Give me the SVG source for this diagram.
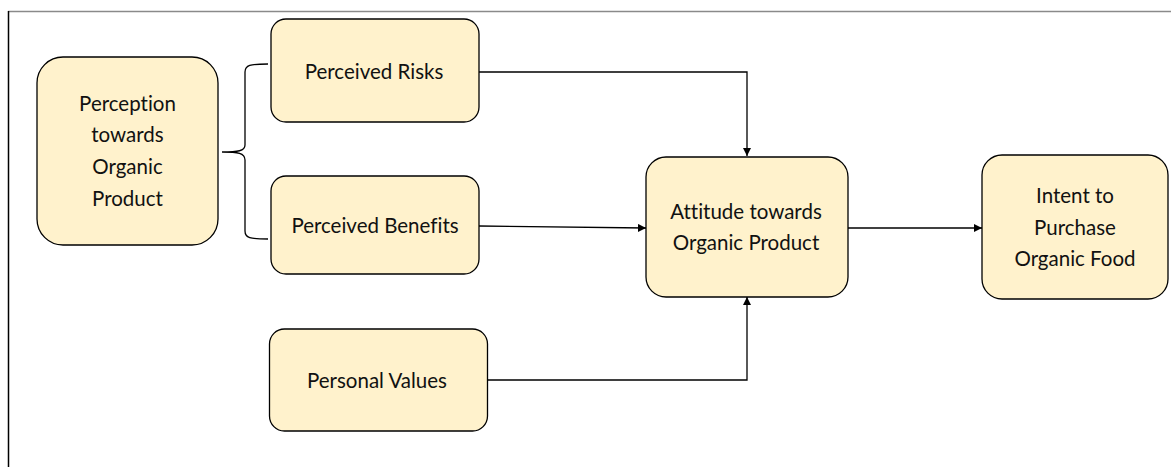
<svg xmlns="http://www.w3.org/2000/svg" width="1171" height="468" viewBox="0 0 1171 468">
  <style>
    .box { fill: #FFF2CC; stroke: #000; stroke-width: 1.3; }
    .lbl { font-family: Lato, "Liberation Sans", sans-serif; font-size: 20.5px; fill: #111; text-anchor: middle; font-variant-ligatures: none; }
    .wire { fill: none; stroke: #000; stroke-width: 1.3; }
  </style>
  <defs>
    <marker id="arrow" viewBox="0 0 10 10" refX="10" refY="5" markerWidth="8" markerHeight="8" markerUnits="userSpaceOnUse" orient="auto">
      <path d="M0,0 L10,5 L0,10 z" fill="#000"/>
    </marker>
  </defs>

  <rect width="1171" height="468" fill="#fff"/>

  <!-- frame -->
  <line x1="8" y1="11.5" x2="1171" y2="11.5" stroke="#8a8a8a" stroke-width="1.5"/>
  <line x1="8.5" y1="11" x2="8.5" y2="467" stroke="#000" stroke-width="1.5"/>

  <g id="connectors">
    <!-- brace grouping the two perceptions -->
    <path class="wire" d="M268,64 C250,64 245,65 245,72 L245,145 C245,151 238,152 222,152 C238,152 245,153 245,160 L245,231 C245,238 250,239 268,239"/>
    <path class="wire" d="M479,72 H747 V156" marker-end="url(#arrow)"/>
    <path class="wire" d="M479,226 L646,228" marker-end="url(#arrow)"/>
    <path class="wire" d="M488,380 H747 V297" marker-end="url(#arrow)"/>
    <path class="wire" d="M848,228 H982" marker-end="url(#arrow)"/>
  </g>

  <g id="perception">
    <rect class="box" x="37" y="57" width="181" height="188" rx="26"/>
    <text class="lbl" x="127.5" y="111">Perception</text>
    <text class="lbl" x="127.5" y="142">towards</text>
    <text class="lbl" x="127.5" y="173.5">Organic</text>
    <text class="lbl" x="127.5" y="205.5">Product</text>
  </g>

  <g id="risks">
    <rect class="box" x="271" y="19" width="208" height="103" rx="15"/>
    <text class="lbl" x="374" y="78.5">Perceived Risks</text>
  </g>

  <g id="benefits">
    <rect class="box" x="271" y="176" width="208" height="98" rx="15"/>
    <text class="lbl" x="375" y="233">Perceived Benefits</text>
  </g>

  <g id="values">
    <rect class="box" x="269.5" y="329" width="218" height="102" rx="15"/>
    <text class="lbl" x="377" y="388">Personal Values</text>
  </g>

  <g id="attitude">
    <rect class="box" x="646" y="157" width="202" height="140" rx="20"/>
    <text class="lbl" x="746" y="218.5">Attitude towards</text>
    <text class="lbl" x="746" y="250">Organic Product</text>
  </g>

  <g id="intent">
    <rect class="box" x="982" y="155" width="186" height="144" rx="20"/>
    <text class="lbl" x="1075" y="203">Intent to</text>
    <text class="lbl" x="1075" y="235">Purchase</text>
    <text class="lbl" x="1075" y="265.5">Organic Food</text>
  </g>
</svg>
